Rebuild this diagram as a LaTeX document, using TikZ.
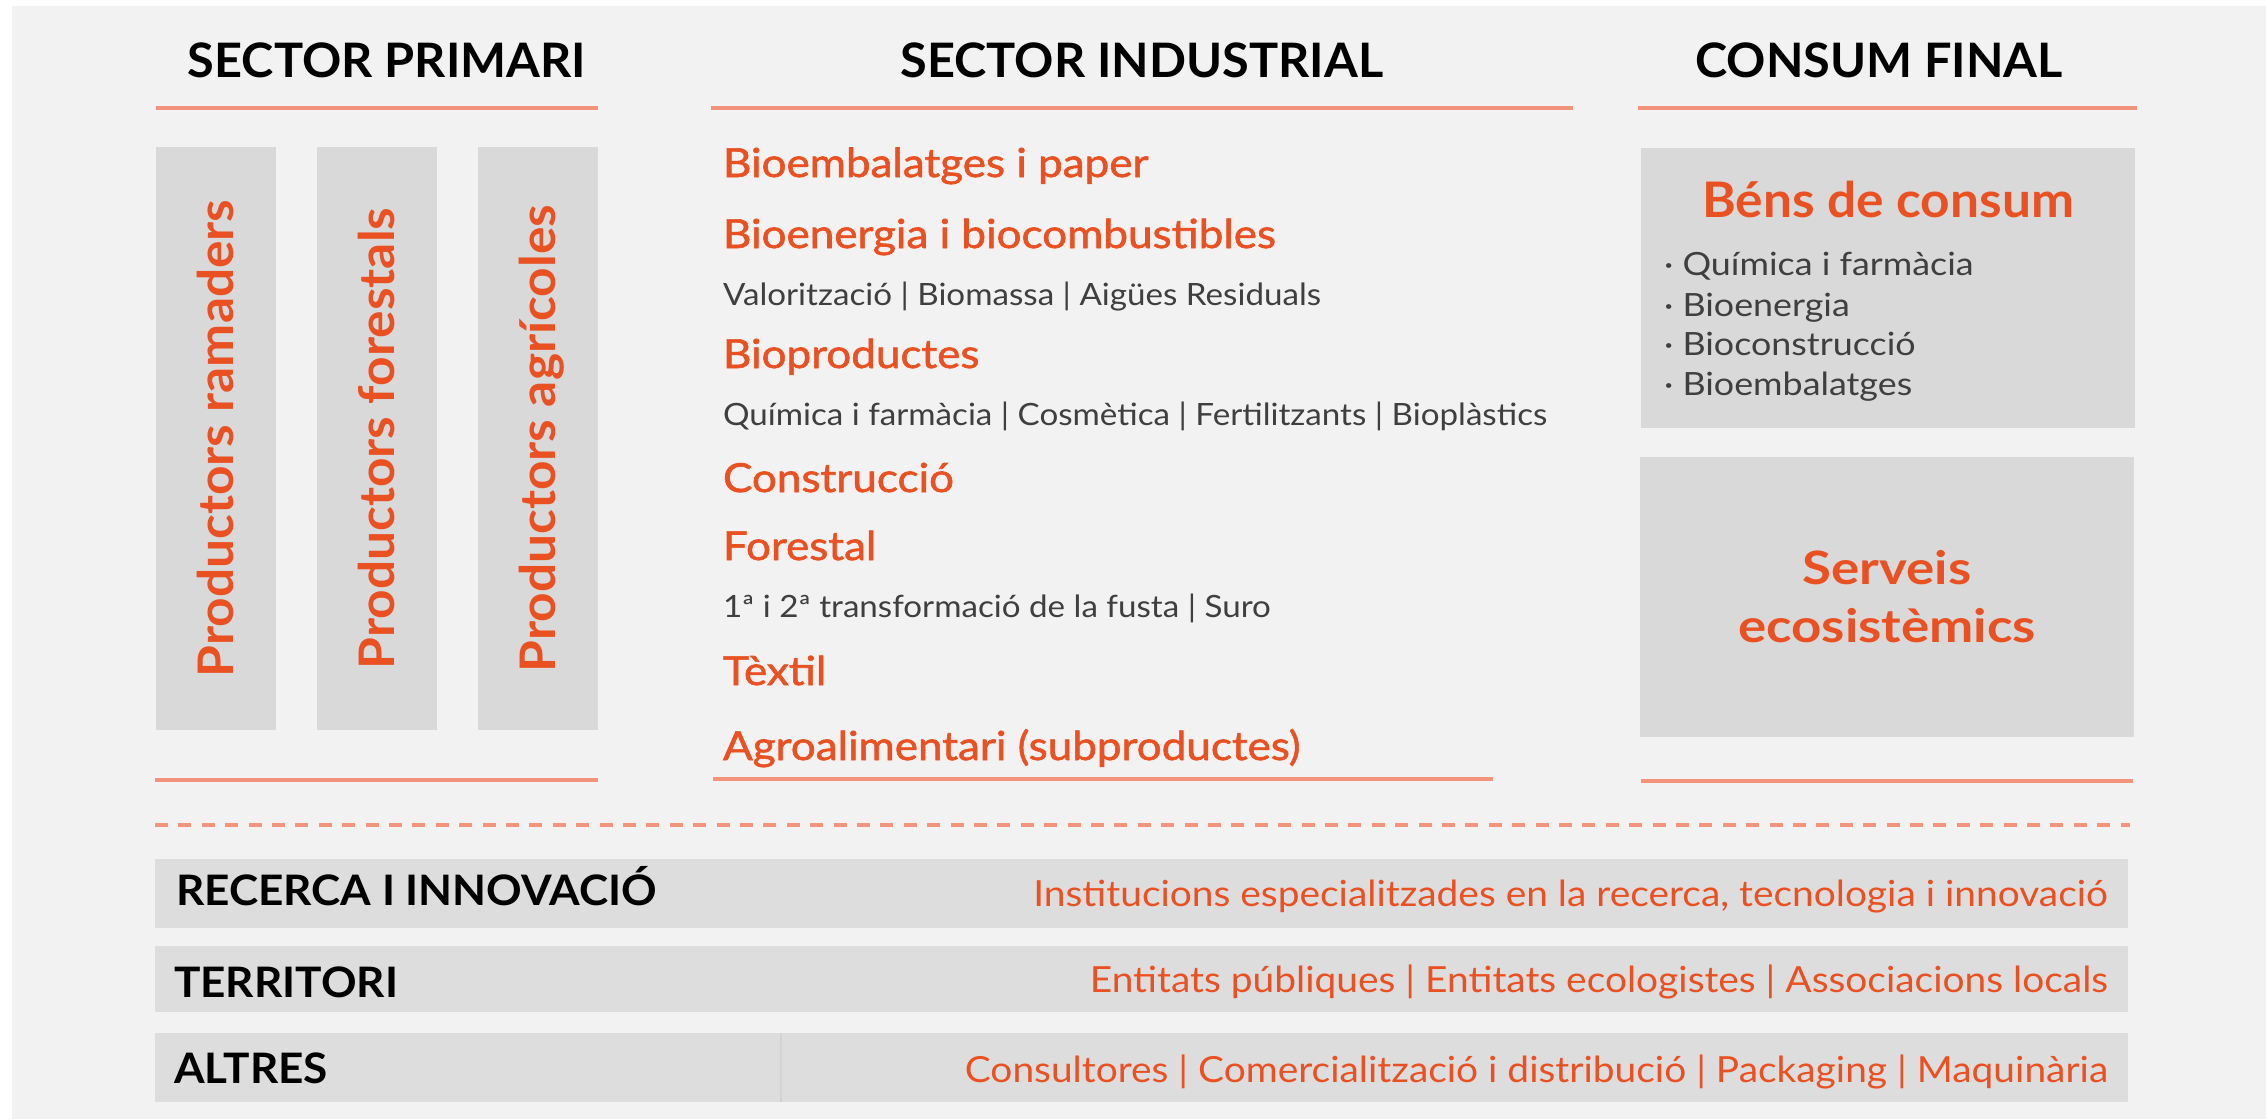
\documentclass[tikz,border=0pt]{standalone}
\usepackage{fontspec}
\setmainfont{Lato}
\newfontfamily\headfont[FakeStretch=1.025]{Lato}
\newfontfamily\widefont[FakeStretch=1.05]{Lato}
\newfontfamily\itemfont[FakeBold=1.5, FakeStretch=1.10]{Lato}
\newfontfamily\subfont[FakeStretch=1.08]{Lato}
\newfontfamily\bulletfont[FakeStretch=1.12]{Lato}
\newfontfamily\serveisfont[FakeStretch=1.15]{Lato}
\usetikzlibrary{positioning}
\definecolor{bggrey}{HTML}{F2F2F2}
\definecolor{boxgrey}{HTML}{D9D9D9}
\definecolor{bargrey}{HTML}{DDDDDD}
\definecolor{divgrey}{HTML}{D2D2D2}
\definecolor{accent}{HTML}{EA5122}
\definecolor{salmon}{HTML}{F4937B}
\definecolor{subgrey}{HTML}{3F3F3F}
\tikzset{
    base/.style={inner sep=0pt, outer sep=0pt},
    header/.style={base, anchor=base, text=black, font=\headfont\bfseries\fontsize{47.5}{57}\selectfont},
    rule/.style={draw=salmon, line width=3.5pt},
    colbox/.style={base, fill=boxgrey, minimum width=120pt, minimum height=583pt},
    colname/.style={base, rotate=90, anchor=base, text=accent, font=\widefont\bfseries\fontsize{49}{59}\selectfont},
    item/.style={base, anchor=base west, text=accent, font=\itemfont\fontsize{40}{48}\selectfont},
    subitem/.style={base, anchor=base west, text=subgrey, font=\subfont\fontsize{30.7}{37}\selectfont},
    consumbox/.style={base, fill=boxgrey, minimum width=494pt, minimum height=280pt},
    bullet/.style={base, anchor=base west, text=subgrey, font=\bulletfont\fontsize{32}{40}\selectfont},
    bar/.style={base, fill=bargrey, minimum width=1973pt},
    barlabel/.style={base, anchor=base west, text=black, font=\widefont\bfseries\fontsize{42}{50}\selectfont},
    bartext/.style={base, anchor=base east, text=accent, font=\subfont\fontsize{36}{43}\selectfont}
}
\begin{document}
\begin{tikzpicture}[x=1pt, y=-1pt]
    \useasboundingbox (0,0) rectangle (2266,1119);
    \fill[white] (0,0) rectangle (2266,1119);
    \fill[bggrey] (12,6) rectangle (2266,1119);

    % headers
    \node [header] (Primari) at (387,77) {SECTOR PRIMARI};
    \node [header] (Industrial) at (1142,77) {SECTOR INDUSTRIAL};
    \node [header] (Consum) at (1879,77) {CONSUM FINAL};
    \draw [rule] (156,108) -- (598,108);
    \draw [rule] (711,108) -- (1573,108);
    \draw [rule] (1638,108) -- (2137,108);

    % sector primari
    \node [colbox] (Ramaders) at (216,438.5) {};
    \node [colbox] (Forestals) at (377,438.5) {};
    \node [colbox] (Agricoles) at (538,438.5) {};
    \node [colname] at ([xshift=17pt]Ramaders.center) {Productors ramaders};
    \node [colname] at ([xshift=17pt]Forestals.center) {Productors forestals};
    \node [colname] at ([xshift=17pt]Agricoles.center) {Productors agrícoles};

    % sector industrial
    \node [item] (Paper) at (723,177) {Bioembalatges i paper};
    \node [item] (Bioenergia) at (723,248) {Bioenergia i biocombustibles};
    \node [subitem] (BioenergiaSub) at (723,305) {Valorització | Biomassa | Aigües Residuals};
    \node [item] (Bioproductes) at (723,368) {Bioproductes};
    \node [subitem] (BioproductesSub) at (723,425) {Química i farmàcia | Cosmètica | Fertilitzants | Bioplàstics};
    \node [item] (Construccio) at (723,492) {Construcció};
    \node [item] (Forestal) at (723,560) {Forestal};
    \node [subitem] (ForestalSub) at (723,617) {1ª i 2ª transformació de la fusta | Suro};
    \node [item] (Textil) at (723,685) {Tèxtil};
    \node [item] (Agro) at (723,760) {Agroalimentari (subproductes)};

    % consum final
    \node [consumbox] (Bens) at (1888,288) {};
    \node [consumbox] (Serveis) at (1887,597) {};
    \node [base, anchor=base, text=accent, font=\widefont\bfseries\fontsize{49}{59}\selectfont] (BensTitle) at (1888,217) {Béns de consum};
    \node [bullet] (Quimica) at (1664,275) {· Química i farmàcia};
    \node [bullet] (Energia) at (1664,316) {· Bioenergia};
    \node [bullet] (Construc) at (1664,355) {· Bioconstrucció};
    \node [bullet] (Embalatges) at (1664,395) {· Bioembalatges};
    \node [base, align=center, text=accent, font=\serveisfont\bfseries\fontsize{46}{58}\selectfont] (ServeisTitle) at (Serveis.center) {Serveis\\ecosistèmics};

    % bottom rules
    \draw [rule] (155,780) -- (598,780);
    \draw [rule] (713,779) -- (1493,779);
    \draw [rule] (1641,781) -- (2133,781);
    \draw [rule, dash pattern=on 13pt off 10.4pt] (155,825) -- (2130,825);

    % agents
    \node [bar, minimum height=69pt] (Recerca) at (1141.5,893.5) {};
    \node [bar, minimum height=66pt] (Territori) at (1141.5,979) {};
    \node [bar, minimum height=69pt] (Altres) at (1141.5,1067.5) {};
    \draw [divgrey, line width=1.5pt] (781,1033) -- (781,1102);
    \node [barlabel] (RecercaLabel) at (176,905) {RECERCA I INNOVACIÓ};
    \node [barlabel] (TerritoriLabel) at (174,997) {TERRITORI};
    \node [barlabel] (AltresLabel) at (174,1083) {ALTRES};
    \node [bartext] (RecercaText) at (2108,906) {Institucions especialitzades en la recerca, tecnologia i innovació};
    \node [bartext] (TerritoriText) at (2108,992) {Entitats públiques | Entitats ecologistes | Associacions locals};
    \node [bartext] (AltresText) at (2108,1082) {Consultores | Comercialització i distribució | Packaging | Maquinària};
\end{tikzpicture}
\end{document}
